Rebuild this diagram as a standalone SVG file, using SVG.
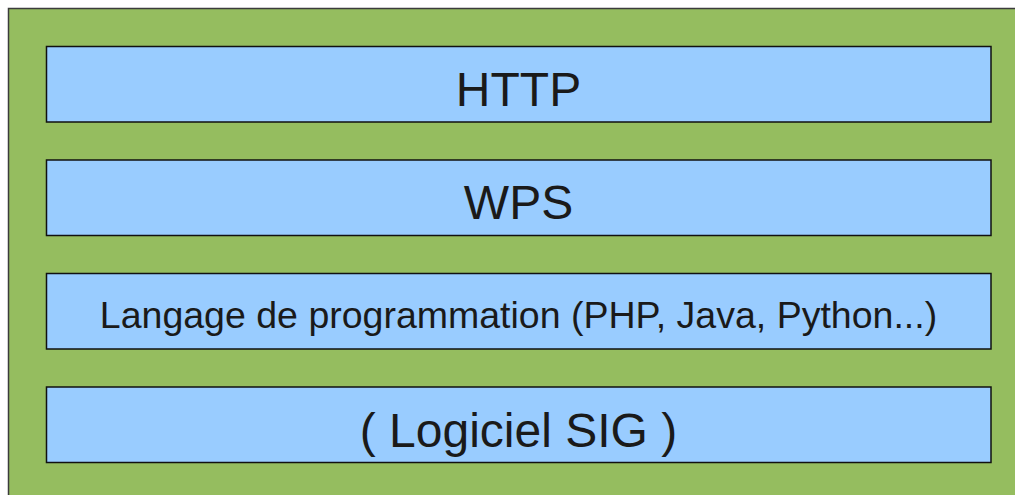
<svg xmlns="http://www.w3.org/2000/svg" width="1015" height="495" viewBox="0 0 1015 495">
<style>
.bar{fill:#99ccff;stroke:#111;stroke-width:1.5}
.t{font-family:"Liberation Sans",Arial,sans-serif;fill:#1a1a1a;text-anchor:middle}
</style>
<rect x="0" y="0" width="1015" height="495" fill="#ffffff"/>
<rect id="background" x="8.5" y="8.5" width="1020" height="500" fill="#95bd5f" stroke="#3c3c3c" stroke-width="1.5"/>
<g id="http">
<rect class="bar" x="46.5" y="46.5" width="944.5" height="75.5"/>
<text class="t" x="518.5" y="106" font-size="48">HTTP</text>
</g>
<g id="wps">
<rect class="bar" x="46.5" y="160" width="944.5" height="75.5"/>
<text class="t" x="518.5" y="219" font-size="48">WPS</text>
</g>
<g id="langage">
<rect class="bar" x="46.5" y="273.5" width="944.5" height="75.5"/>
<text class="t" x="518.5" y="328" font-size="37.5">Langage de programmation (PHP, Java, Python...)</text>
</g>
<g id="logiciel">
<rect class="bar" x="46.5" y="387" width="944.5" height="75.5"/>
<text class="t" x="518.5" y="447" font-size="48">( Logiciel SIG )</text>
</g>
<g id="connectors"></g>
</svg>
